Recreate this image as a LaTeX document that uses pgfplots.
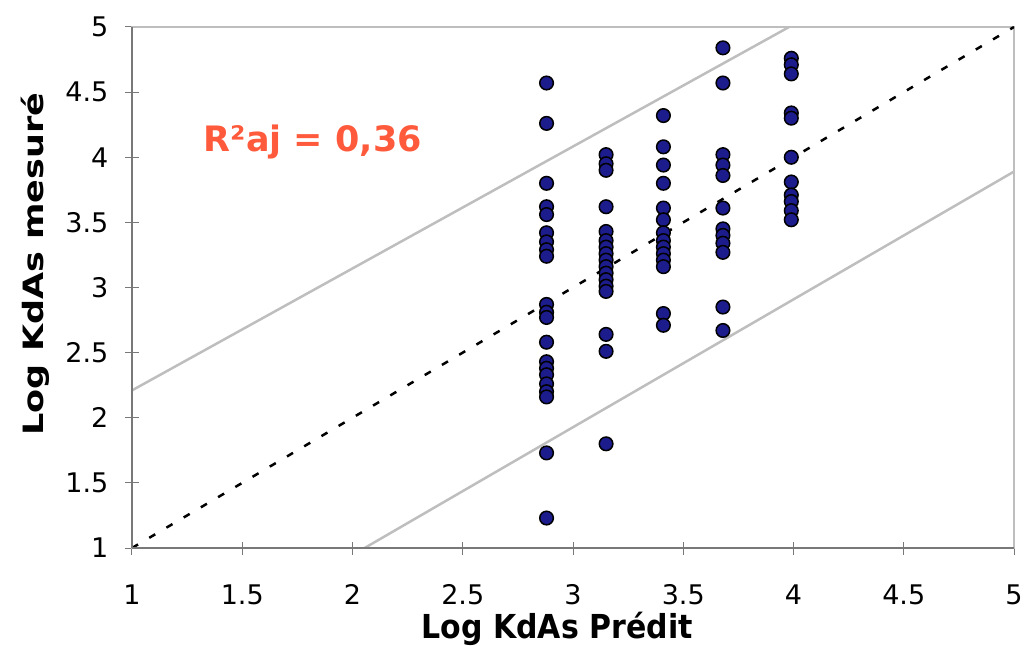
\documentclass[border=0pt]{standalone}
\usepackage{pgfplots}
\pgfplotsset{compat=1.18}
\usepackage{fontspec}
\setmainfont{DejaVu Sans}
\definecolor{ptfill}{RGB}{28,28,140}
\definecolor{frame}{RGB}{190,190,190}
\definecolor{axgray}{RGB}{120,120,120}
\definecolor{regline}{RGB}{190,190,190}
\definecolor{rtxt}{RGB}{255,90,60}
\begin{document}
\begin{tikzpicture}
\begin{axis}[
  at={(0,0)}, anchor=south west,
  scale only axis,
  width=882pt, height=521pt,
  xmin=1, xmax=5, ymin=1, ymax=5,
  xtick={1,1.5,...,5}, ytick={1,1.5,...,5},
  xtick pos=bottom, ytick pos=left,
  tick align=center,
  major tick length=13pt,
  every tick/.style={axgray, line width=1pt},
  axis line style={frame, line width=1.6pt},
  /pgf/number format/assume math mode=true,
  /pgf/number format/fixed,
  tick label style={font=\fontsize{27}{31}\selectfont, black, inner sep=0pt},
  xticklabel style={yshift=-30pt},
  yticklabel style={xshift=-17pt},
  xlabel={\scalebox{1}[1.1]{\fontsize{30}{34}\selectfont\bfseries Log KdAs Prédit}},
  ylabel={\scalebox{1.25}[1]{\fontsize{28}{34}\selectfont\bfseries Log KdAs mesuré}},
  xlabel style={at={(axis description cs:0.482,0)}, anchor=north, yshift=-64pt, inner sep=0pt},
  ylabel style={at={(axis description cs:0,0.545)}, anchor=center, yshift=97pt},
  clip=true,
  after end axis/.code={
    \draw[axgray, line width=1.6pt] (rel axis cs:0,0) -- (rel axis cs:1,0);
    \draw[axgray, line width=1.6pt] (rel axis cs:0,0) -- (rel axis cs:0,1);
  },
]
\addplot[regline, line width=2.5pt] coordinates {(1,2.21) (3.98,5)};
\addplot[regline, line width=2.5pt] coordinates {(2.055,1) (5,3.89)};
\addplot[black, line width=2.5pt, dash pattern=on 7pt off 13pt] coordinates {(1,1) (5,5)};
\addplot[only marks, mark=*, mark size=6.8pt, mark options={fill=ptfill, draw=black, line width=1.5pt}] coordinates {
(2.88,4.57) (2.88,4.26) (2.88,3.80) (2.88,3.62) (2.88,3.56) (2.88,3.42) (2.88,3.35) (2.88,3.29) (2.88,3.24)
(2.88,2.87) (2.88,2.81) (2.88,2.77) (2.88,2.58) (2.88,2.43) (2.88,2.38) (2.88,2.33) (2.88,2.26) (2.88,2.20)
(2.88,2.16) (2.88,1.73) (2.88,1.23)
(3.15,4.02) (3.15,3.95) (3.15,3.90) (3.15,3.62) (3.15,3.43) (3.15,3.36) (3.15,3.31) (3.15,3.26) (3.15,3.21)
(3.15,3.16) (3.15,3.11) (3.15,3.06) (3.15,3.01) (3.15,2.97) (3.15,2.64) (3.15,2.51) (3.15,1.80)
(3.41,4.32) (3.41,4.08) (3.41,3.94) (3.41,3.80) (3.41,3.61) (3.41,3.52) (3.41,3.42) (3.41,3.36) (3.41,3.31)
(3.41,3.26) (3.41,3.21) (3.41,3.16) (3.41,2.80) (3.41,2.71)
(3.68,4.84) (3.68,4.57) (3.68,4.02) (3.68,3.94) (3.68,3.86) (3.68,3.61) (3.68,3.45) (3.68,3.40) (3.68,3.34)
(3.68,3.27) (3.68,2.85) (3.68,2.67)
(3.99,4.76) (3.99,4.71) (3.99,4.64) (3.99,4.34) (3.99,4.30) (3.99,4.00) (3.99,3.81) (3.99,3.71) (3.99,3.66)
(3.99,3.59) (3.99,3.52)
};
\node[text=rtxt, font=\fontsize{35}{40}\selectfont\bfseries] at (axis cs:1.82,4.115) {R²aj = 0,36};
\end{axis}
\pgfresetboundingbox
\path[use as bounding box] (-132pt,-97pt) rectangle (893pt,548pt);
\end{tikzpicture}
\end{document}
